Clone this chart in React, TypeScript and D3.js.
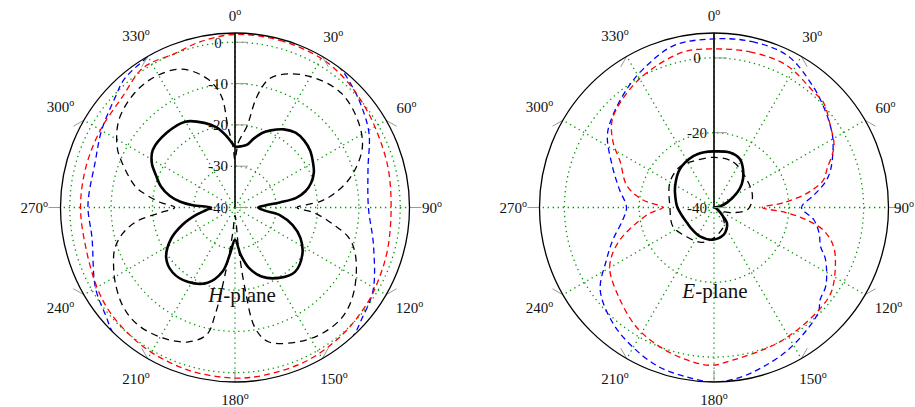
import React from "react";
import * as d3 from "d3";

// ---------- axis values ----------
const angleTicks = [0, 30, 60, 90, 120, 150, 180, 210, 240, 270, 300, 330];
const hRadialTicks = [0, -10, -20, -30, -40];
const hGridLevels = [0, -10, -20, -30];
const eRadialTicks = [0, -20, -40];
const eGridLevels = [0, -20];

// ---------- H-plane series (angle in degrees, value in dB) ----------
const hSolidAngle = [0, 6, 11, 15, 20, 25, 32, 39, 46, 53, 60, 66, 72, 77, 81, 83.5, 86, 90, 96, 100, 107, 115, 125, 137, 148, 159, 167, 173, 180, 186, 191, 200, 212, 224, 234, 244, 252, 259, 265, 270, 273, 276, 280, 286, 292, 298, 305, 318, 330, 340, 347, 353, 357];
const hSolidDb = [-25.2, -25.1, -24.5, -22.8, -20.8, -19.4, -17.7, -16.7, -16.7, -17.2, -18.2, -19.1, -20.6, -22.5, -25.0, -29.1, -32.7, -34.4, -32.7, -28.8, -25.4, -22.5, -20.1, -18.7, -19.9, -22.1, -25.0, -28.4, -32.2, -28.8, -24.2, -20.6, -18.7, -18.2, -19.4, -22.8, -26.7, -30.3, -33.0, -34.2, -29.8, -26.7, -24.0, -21.3, -19.4, -17.2, -15.7, -15.5, -16.0, -18.2, -20.1, -22.5, -24.2];

const hDashAngle = [0, 3, 8.4, 11.2, 15, 22, 32, 43, 55, 65, 75, 82, 86, 90, 94, 100, 105, 112, 125, 135, 145, 155, 166, 170.5, 173, 175, 180, 185, 188, 190.5, 192.5, 199, 209, 220, 229, 238, 244, 251, 257, 262, 266, 270, 274, 278, 282, 292, 297, 307, 319, 329, 339, 348, 353, 355, 358];
const hDashDb = [-28.4, -24.2, -20.1, -12.6, -7.7, -5.1, -3.1, -2.2, -3.6, -6.0, -10.9, -15.7, -19.4, -25.0, -20.6, -15.7, -11.4, -8.5, -4.8, -2.9, -2.9, -4.1, -6.5, -10.4, -20.4, -30.3, -38.1, -33.9, -25.4, -13.6, -8.5, -5.6, -3.9, -3.1, -3.9, -5.8, -7.3, -9.2, -12.1, -16.0, -21.8, -25.4, -21.8, -18.4, -15.3, -10.4, -8.0, -4.8, -3.1, -2.9, -4.1, -8.2, -12.8, -20.4, -25.0];

const hRedAngle = [0, 15, 30, 40, 50, 60, 75, 90, 105, 115, 125, 140, 155, 170, 180, 195, 210, 220, 230, 240, 255, 270, 285, 300, 315, 325, 330, 338, 348];
const hRedDb = [1.9, 1.9, 1.7, 1.0, 0.0, -0.9, -1.7, -2.2, -1.7, -1.2, -0.5, 0.3, 1.0, 1.2, 1.3, 1.0, 0.5, 0.0, -0.5, -1.4, -2.6, -2.6, -2.6, -2.4, -1.7, 0.3, 0.5, 0.0, 1.0];

const hBlueAngle = [0, 20, 36, 44, 51, 61, 74, 90, 105, 121, 131, 138, 150, 180, 210, 224, 230, 240, 258, 271, 288, 300, 313, 319, 329, 340];
const hBlueDb = [4.1, 3.7, 2.4, 0.8, -0.7, -2.9, -6.5, -7.7, -5.3, -1.0, 0.8, 2.4, 4.1, 4.9, 4.1, 2.4, 0.8, -1.0, -4.6, -4.4, -4.4, -2.7, -0.5, 1.0, 2.0, 3.2];

// ---------- E-plane series ----------
const eSolidAngle = [0, 16, 28, 40, 50, 57, 69, 80, 95, 115, 128, 135, 140, 150, 160, 182, 206, 225, 241, 257, 272, 285, 298, 318, 338, 350];
const eSolidDb = [-25.0, -24.7, -25.3, -27.8, -30.3, -32.6, -36.2, -38.4, -39.7, -39.2, -37.9, -36.5, -34.6, -33.3, -32.3, -31.4, -31.4, -31.7, -31.7, -31.1, -30.1, -29.3, -28.2, -26.3, -25.2, -25.0];

const eDashAngle = [0, 23, 50, 74, 93, 105, 120, 150, 180, 200, 223, 245, 271, 300, 320, 335];
const eDashDb = [-26.6, -26.8, -28.5, -29.3, -30.9, -34.6, -37.3, -34.6, -31.9, -30.1, -29.3, -27.9, -28.2, -26.4, -25.8, -26.4];

const eRedAngle = [0, 13, 27, 41, 46, 55, 63, 71, 76, 81, 86, 90, 94, 98, 102, 108, 116, 126, 134, 144, 154, 163, 173, 181, 190, 201, 213, 227, 239, 245, 251, 257, 265, 270, 276, 284, 296, 303, 311, 325, 336, 349];
const eRedDb = [2.4, 2.7, 2.7, 0.8, 0.6, -2.0, -4.0, -8.0, -9.9, -14.5, -21.2, -27.1, -20.7, -14.5, -9.9, -6.4, -3.9, -1.3, -0.8, -0.5, 0.0, 0.3, 1.1, 2.2, 1.4, 0.0, -1.9, -5.1, -7.5, -9.9, -13.4, -17.7, -22.8, -26.3, -20.9, -16.0, -12.1, -7.8, -4.0, -1.1, 0.6, 2.4];

const eBlueAngle = [0, 13, 26, 39, 47, 55, 61, 72, 77, 83, 90, 97, 104, 110, 115, 125, 131, 135, 143, 153, 163, 171, 180, 189, 199, 210, 221, 234, 244, 252, 262, 270, 281, 292, 304, 312, 324, 333, 346];
const eBlueDb = [5.1, 5.5, 5.1, 1.9, -0.1, -2.0, -3.6, -7.2, -9.4, -13.1, -16.6, -13.1, -11.0, -9.7, -7.1, -3.5, -2.4, -0.5, 1.1, 3.0, 4.6, 5.9, 6.7, 5.9, 5.1, 3.2, 1.1, -2.4, -8.0, -11.5, -15.3, -16.6, -14.2, -10.7, -5.6, -3.5, -0.6, 1.6, 4.6];

type Series = { angles: number[]; db: number[]; color: string; width: number; dash?: string };

const FONT = "'Liberation Serif', 'Times New Roman', serif";
const W = 915;

function Polar(props: {
  id: string; cx: number; cy: number; R: number; maxDb: number;
  ticks: number[]; grid: number[]; series: Series[];
  title: string; titleX: number; titleY: number;
}) {
  const { id, cx, cy, R, maxDb, ticks, grid, series, title, titleX, titleY } = props;
  const r = d3.scaleLinear().domain([-40, maxDb]).range([0, R]);
  const toRad = (a: number) => (a * Math.PI) / 180;
  const line = d3
    .lineRadial<[number, number]>()
    .angle((d) => d[0])
    .radius((d) => d[1])
    .curve(d3.curveCatmullRomClosed.alpha(0.5));

  return (
    <g transform={`translate(${cx},${cy})`}>
      <defs>
        <clipPath id={id}>
          <circle cx={0} cy={0} r={R} />
        </clipPath>
      </defs>
      {/* grid */}
      <g stroke="rgb(0,150,0)" strokeWidth={1.3} strokeDasharray="1.3 3.7" fill="none">
        {grid.map((v) => (
          <circle key={v} r={r(v)} />
        ))}
        {angleTicks.map((a) => (
          <line key={a} x1={0} y1={0} x2={R * Math.sin(toRad(a))} y2={-R * Math.cos(toRad(a))} />
        ))}
      </g>
      {/* curves */}
      <g clipPath={`url(#${id})`} fill="none">
        {series.map((s, i) => {
          const pts = s.angles.map((a, j) => [toRad(a), r(Math.max(-40, s.db[j]))] as [number, number]);
          return (
            <path
              key={i}
              d={line(pts) || ""}
              stroke={s.color}
              strokeWidth={s.width}
              strokeDasharray={s.dash}
              strokeLinejoin="round"
            />
          );
        })}
      </g>
      {/* angular ticks */}
      <g stroke="#999" strokeWidth={1}>
        {angleTicks.map((a) => {
          const phi = toRad(90 - a);
          const px = R * Math.cos(phi);
          const py = -R * Math.sin(phi);
          return <line key={a} x1={px} y1={py} x2={px + 12 * Math.cos(phi)} y2={py + 12 * Math.sin(phi)} />;
        })}
        {ticks.map((v) => (
          <line key={v} x1={0} y1={-r(v)} x2={13} y2={-r(v)} />
        ))}
      </g>
      {/* radial axis line */}
      <line x1={0} y1={0} x2={0} y2={-R} stroke="black" strokeWidth={1.6} />
      <circle r={R} fill="none" stroke="black" strokeWidth={1.3} />
      {/* radial labels */}
      <g fontFamily={FONT} fontSize={15} fill="#111" textAnchor="middle">
        {ticks.map((v) => (
          <text key={v} x={-17} y={-r(v)} dy="0.35em">
            {String(v)}
          </text>
        ))}
      </g>
      {/* angle labels */}
      <g fontFamily={FONT} fontSize={15} fill="#111" textAnchor="middle">
        {angleTicks.map((a) => {
          const s = Math.sin(toRad(a));
          const c = Math.cos(toRad(a));
          const w = String(a).length * 7.5 + 5;
          const along = 187 + (w / 2) * Math.abs(s) + 5 * Math.abs(c);
          let x = along * s;
          const maxX = W - cx - w / 2 - 1;
          if (x > maxX) x = maxX;
          return (
            <text key={a} x={x} y={-along * c + 5}>
              {String(a)}
              <tspan dy={-6} fontSize={10}>o</tspan>
            </text>
          );
        })}
      </g>
      <text x={titleX} y={titleY} fontFamily={FONT} fontSize={21} textAnchor="middle" fill="#111">
        <tspan fontStyle="italic">{title}</tspan>-plane
      </text>
    </g>
  );
}

export default function App() {
  const hSeries: Series[] = [
    { angles: hBlueAngle, db: hBlueDb, color: "#0000ff", width: 1.3, dash: "6 4" },
    { angles: hRedAngle, db: hRedDb, color: "#ff0000", width: 1.3, dash: "6 4" },
    { angles: hDashAngle, db: hDashDb, color: "#000", width: 1.3, dash: "7 5" },
    { angles: hSolidAngle, db: hSolidDb, color: "#000", width: 2.6 },
  ];
  const eSeries: Series[] = [
    { angles: eBlueAngle, db: eBlueDb, color: "#0000ff", width: 1.3, dash: "6 4" },
    { angles: eRedAngle, db: eRedDb, color: "#ff0000", width: 1.3, dash: "6 4" },
    { angles: eDashAngle, db: eDashDb, color: "#000", width: 1.3, dash: "7 5" },
    { angles: eSolidAngle, db: eSolidDb, color: "#000", width: 2.6 },
  ];
  return (
    <svg
      width={915}
      height={407}
      viewBox="0 0 915 407"
      style={{ position: "absolute", left: 0, top: 0, background: "#fff", display: "block" }}
    >
      <rect width={915} height={407} fill="#fff" />
      <Polar id="clipH" cx={235} cy={207.5} R={174.5} maxDb={2.25} ticks={hRadialTicks} grid={hGridLevels}
        series={hSeries} title="H" titleX={7} titleY={94} />
      <Polar id="clipE" cx={714} cy={207.5} R={174.5} maxDb={6.66} ticks={eRadialTicks} grid={eGridLevels}
        series={eSeries} title="E" titleX={1} titleY={90} />
    </svg>
  );
}
